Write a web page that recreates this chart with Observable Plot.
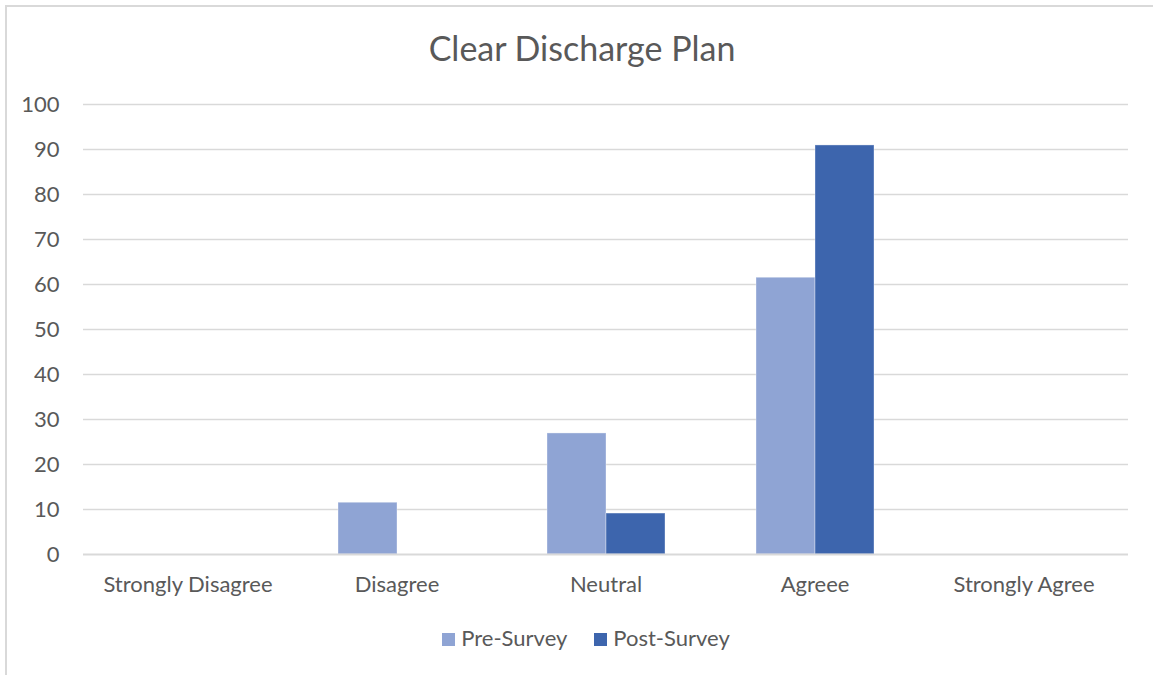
<!DOCTYPE html>
<html>
<head>
<meta charset="utf-8">
<script src="https://cdn.jsdelivr.net/npm/d3@7"></script>
<script src="https://cdn.jsdelivr.net/npm/@observablehq/plot@0.6"></script>
<style>
  html, body { margin: 0; padding: 0; background: #fff; }
  #chart {
    position: relative; width: 1153px; height: 675px; overflow: hidden;
    font-family: Lato, "Open Sans", sans-serif; color: #595959;
  }
  #frame {
    position: absolute; left: 5px; top: 5px; width: 1200px; height: 720px;
    border-left: 2px solid #d9d9d9; border-top: 2px solid #d9d9d9;
  }
  #title {
    position: absolute; left: 0; top: 28px; width: 1164px; text-align: center;
    font-size: 34px; line-height: 40px;
  }
  #plot { position: absolute; left: 0; top: 80px; }
  #legend {
    position: absolute; left: 0; top: 625px; width: 1172px;
    display: flex; justify-content: center; gap: 27px; font-size: 22px; line-height: 26px;
  }
  .item { display: flex; align-items: center; gap: 6px; }
  .sw { width: 13px; height: 13px; display: inline-block; margin-top: 2px; }
</style>
</head>
<body>
<div id="chart">
  <div id="frame"></div>
  <div id="title">Clear Discharge Plan</div>
  <div id="plot"></div>
  <div id="legend"></div>
</div>
<script>
// Survey responses (% of respondents) for "Clear Discharge Plan"
const categories = ["Strongly Disagree", "Disagree", "Neutral", "Agreee", "Strongly Agree"];
const series = ["Pre-Survey", "Post-Survey"];
const preSurvey = [0, 11.5, 26.9, 61.5, 0];
const postSurvey = [0, 0, 9.1, 90.9, 0];
const yTicks = [0, 10, 20, 30, 40, 50, 60, 70, 80, 90, 100];
const colors = ["#8fa4d4", "#3d65ad"];

const rows = categories.flatMap((c, i) => [
  {category: c, series: series[0], value: preSurvey[i]},
  {category: c, series: series[1], value: postSurvey[i]}
]);

const chart = Plot.plot({
  width: 1153,
  height: 540,
  marginTop: 24,
  marginBottom: 66,
  marginLeft: 82,
  marginRight: 24,
  style: {fontFamily: "Lato, 'Open Sans', sans-serif", fontSize: "22px", color: "#595959", background: "transparent"},
  fx: {domain: categories, padding: 0, label: null},
  x: {domain: series, paddingInner: 0, paddingOuter: 0.75, axis: null},
  y: {domain: [0, 100], label: null},
  color: {domain: series, range: colors},
  marks: [
    Plot.ruleY(yTicks.filter(d => d > 0), {stroke: "#d9d9d9", strokeWidth: 1.5}),
    Plot.axisY({ticks: yTicks, tickSize: 0, tickPadding: 24, label: null, fontSize: 22}),
    Plot.axisFx({anchor: "bottom", tickSize: 0, tickPadding: 22, label: null, fontSize: 22}),
    Plot.barY(rows, {
      fx: "category", x: "series", y: "value", fill: "series",
      stroke: d => d.value > 0 ? "#ffffff" : "none", strokeOpacity: 0.35, strokeWidth: 1
    }),
    Plot.ruleY([0], {stroke: "#d9d9d9", strokeWidth: 2})
  ]
});
document.getElementById("plot").appendChild(chart);

const legend = document.getElementById("legend");
series.forEach((s, i) => {
  const item = document.createElement("div");
  item.className = "item";
  const sw = document.createElement("span");
  sw.className = "sw";
  sw.style.background = colors[i];
  const label = document.createElement("span");
  label.textContent = s;
  item.appendChild(sw);
  item.appendChild(label);
  legend.appendChild(item);
});
</script>
</body>
</html>
